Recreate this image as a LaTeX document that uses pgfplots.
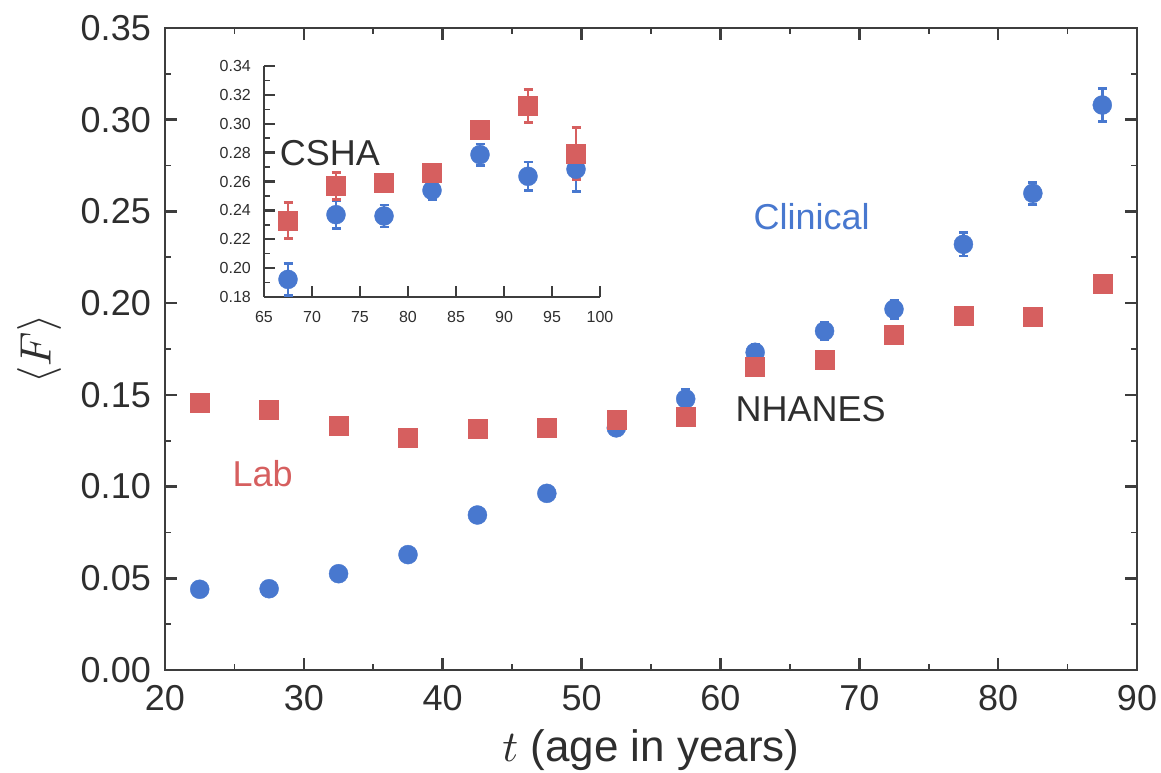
\documentclass[border=0pt]{standalone}
\usepackage{fontspec}
\setmainfont{Liberation Sans}
\usepackage{graphicx}
\usepackage{pgfplots}
\pgfplotsset{compat=1.18}
\definecolor{cblue}{HTML}{4878CF}
\definecolor{cred}{HTML}{D65F5F}
\definecolor{cdark}{HTML}{3D3D3D}
\definecolor{ctext}{HTML}{2E2E2E}
\newcommand{\fbig}{\fontsize{36}{36}\selectfont}
\newcommand{\fsmall}{\fontsize{16}{16}\selectfont}
\newcommand{\flab}{\fontsize{44}{44}\selectfont}
\newcommand{\bigmath}[1]{\scalebox{4.4}{\fontsize{10}{12}\selectfont$#1$}}

\pgfplotstableread{
x y e
22.5 0.0440 0
27.5 0.0443 0
32.5 0.0525 0
37.5 0.0629 0
42.5 0.0845 0
47.5 0.0963 0
52.5 0.1320 0
57.5 0.1478 0.0055
62.5 0.1732 0.0045
67.5 0.1848 0.0050
72.5 0.1967 0.0050
77.5 0.2321 0.0065
82.5 0.2599 0.0060
87.5 0.3080 0.0090
}\tclin

\pgfplotstableread{
x y e
22.5 0.1458 0
27.5 0.1418 0
32.5 0.1334 0
37.5 0.1265 0
42.5 0.1316 0
47.5 0.1320 0
52.5 0.1365 0
57.5 0.1381 0
62.5 0.1652 0
67.5 0.1692 0
72.5 0.1830 0
77.5 0.1930 0
82.5 0.1927 0
87.5 0.2108 0.0030
}\tlab

\pgfplotstableread{
x y e
67.5 0.1922 0.0110
72.5 0.2370 0.0095
77.5 0.2361 0.0075
82.5 0.2539 0.0065
87.5 0.2786 0.0075
92.5 0.2636 0.0100
97.5 0.2685 0.0155
}\tcshaclin

\pgfplotstableread{
x y e
67.5 0.2331 0.0125
72.5 0.2569 0.0095
77.5 0.2592 0.0030
82.5 0.2661 0.0040
87.5 0.2962 0.0050
92.5 0.3123 0.0115
97.5 0.2793 0.0180
}\tcshalab

\begin{document}
\begin{tikzpicture}
\useasboundingbox (-165pt,-103pt) rectangle (996pt,670pt);
\begin{axis}[
  at={(0pt,0pt)}, anchor=south west,
  scale only axis, width=972pt, height=642pt,
  xmin=20, xmax=90, ymin=0, ymax=0.35,
  xtick={20,30,40,50,60,70,80,90},
  ytick={0,0.05,0.1,0.15,0.2,0.25,0.3,0.35},
  minor x tick num=1, minor y tick num=1,
  tick align=inside,
  major tick length=12pt, minor tick length=6pt,
  tick style={cdark},
  major tick style={line width=2.5pt},
  minor tick style={line width=1.8pt},
  axis line style={line width=2.8pt, cdark},
  clip=false,
  /pgf/number format/assume math mode=true,
  ticklabel style={font=\fbig, text=ctext, inner sep=0pt},
  yticklabel style={anchor=east, xshift=-14pt,
    /pgf/number format/.cd, fixed, fixed zerofill, precision=2},
  xticklabel style={anchor=north, yshift=-15pt},
  xlabel={\bigmath{t} (age in years)},
  xlabel style={at={(axis description cs:0.5,0)}, anchor=center, yshift=-80pt, font=\flab, text=ctext},
  ylabel={\bigmath{\langle F\rangle}},
  ylabel style={at={(axis description cs:-0.1291,0.5)}, anchor=center, font=\flab, text=ctext},
  error bars/error bar style={line width=2.5pt},
  error bars/error mark options={rotate=90, mark size=4.5pt, line width=2.5pt},
]
\addplot[only marks, mark=*, mark size=9.5pt, color=cblue, mark options={fill=cblue, draw=none},
  error bars/.cd, y dir=both, y explicit] table[x=x, y=y, y error=e]{\tclin};
\addplot[only marks, mark=square*, mark size=9.5pt, color=cred, mark options={fill=cred, draw=none},
  error bars/.cd, y dir=both, y explicit] table[x=x, y=y, y error=e]{\tlab};
\node[text=cblue, font=\fbig, inner sep=0pt] at (axis cs:66.57,0.247) {Clinical};
\node[text=cred, font=\fbig, inner sep=0pt] at (axis cs:27.03,0.1072) {Lab};
\node[text=ctext, font=\fbig, inner sep=0pt] at (axis cs:66.5,0.1423) {NHANES};
\end{axis}

\begin{axis}[
  at={(99pt,373pt)}, anchor=south west,
  scale only axis, width=336pt, height=231pt,
  xmin=65, xmax=100, ymin=0.18, ymax=0.34,
  axis x line*=bottom, axis y line*=left,
  xtick={65,70,75,80,85,90,95,100},
  ytick={0.18,0.2,0.22,0.24,0.26,0.28,0.3,0.32,0.34},
  minor y tick num=1,
  tick align=inside,
  major tick length=11pt, minor tick length=5.5pt,
  tick style={cdark},
  major tick style={line width=2.3pt},
  minor tick style={line width=1.6pt},
  axis line style={-, line width=2.5pt, cdark},
  clip=false,
  /pgf/number format/assume math mode=true,
  ticklabel style={font=\fsmall, text=ctext, inner sep=0pt},
  yticklabel style={anchor=east, xshift=-13pt,
    /pgf/number format/.cd, fixed, fixed zerofill, precision=2},
  xticklabel style={anchor=north, yshift=-14pt},
  error bars/error bar style={line width=2.5pt},
  error bars/error mark options={rotate=90, mark size=4.5pt, line width=2.5pt},
]
\addplot[only marks, mark=*, mark size=9.5pt, color=cblue, mark options={fill=cblue, draw=none},
  error bars/.cd, y dir=both, y explicit] table[x=x, y=y, y error=e]{\tcshaclin};
\addplot[only marks, mark=square*, mark size=9.5pt, color=cred, mark options={fill=cred, draw=none},
  error bars/.cd, y dir=both, y explicit] table[x=x, y=y, y error=e]{\tcshalab};
\node[text=ctext, font=\fbig, inner sep=0pt] at (axis cs:71.875,0.2795) {CSHA};
\end{axis}
\end{tikzpicture}
\end{document}
